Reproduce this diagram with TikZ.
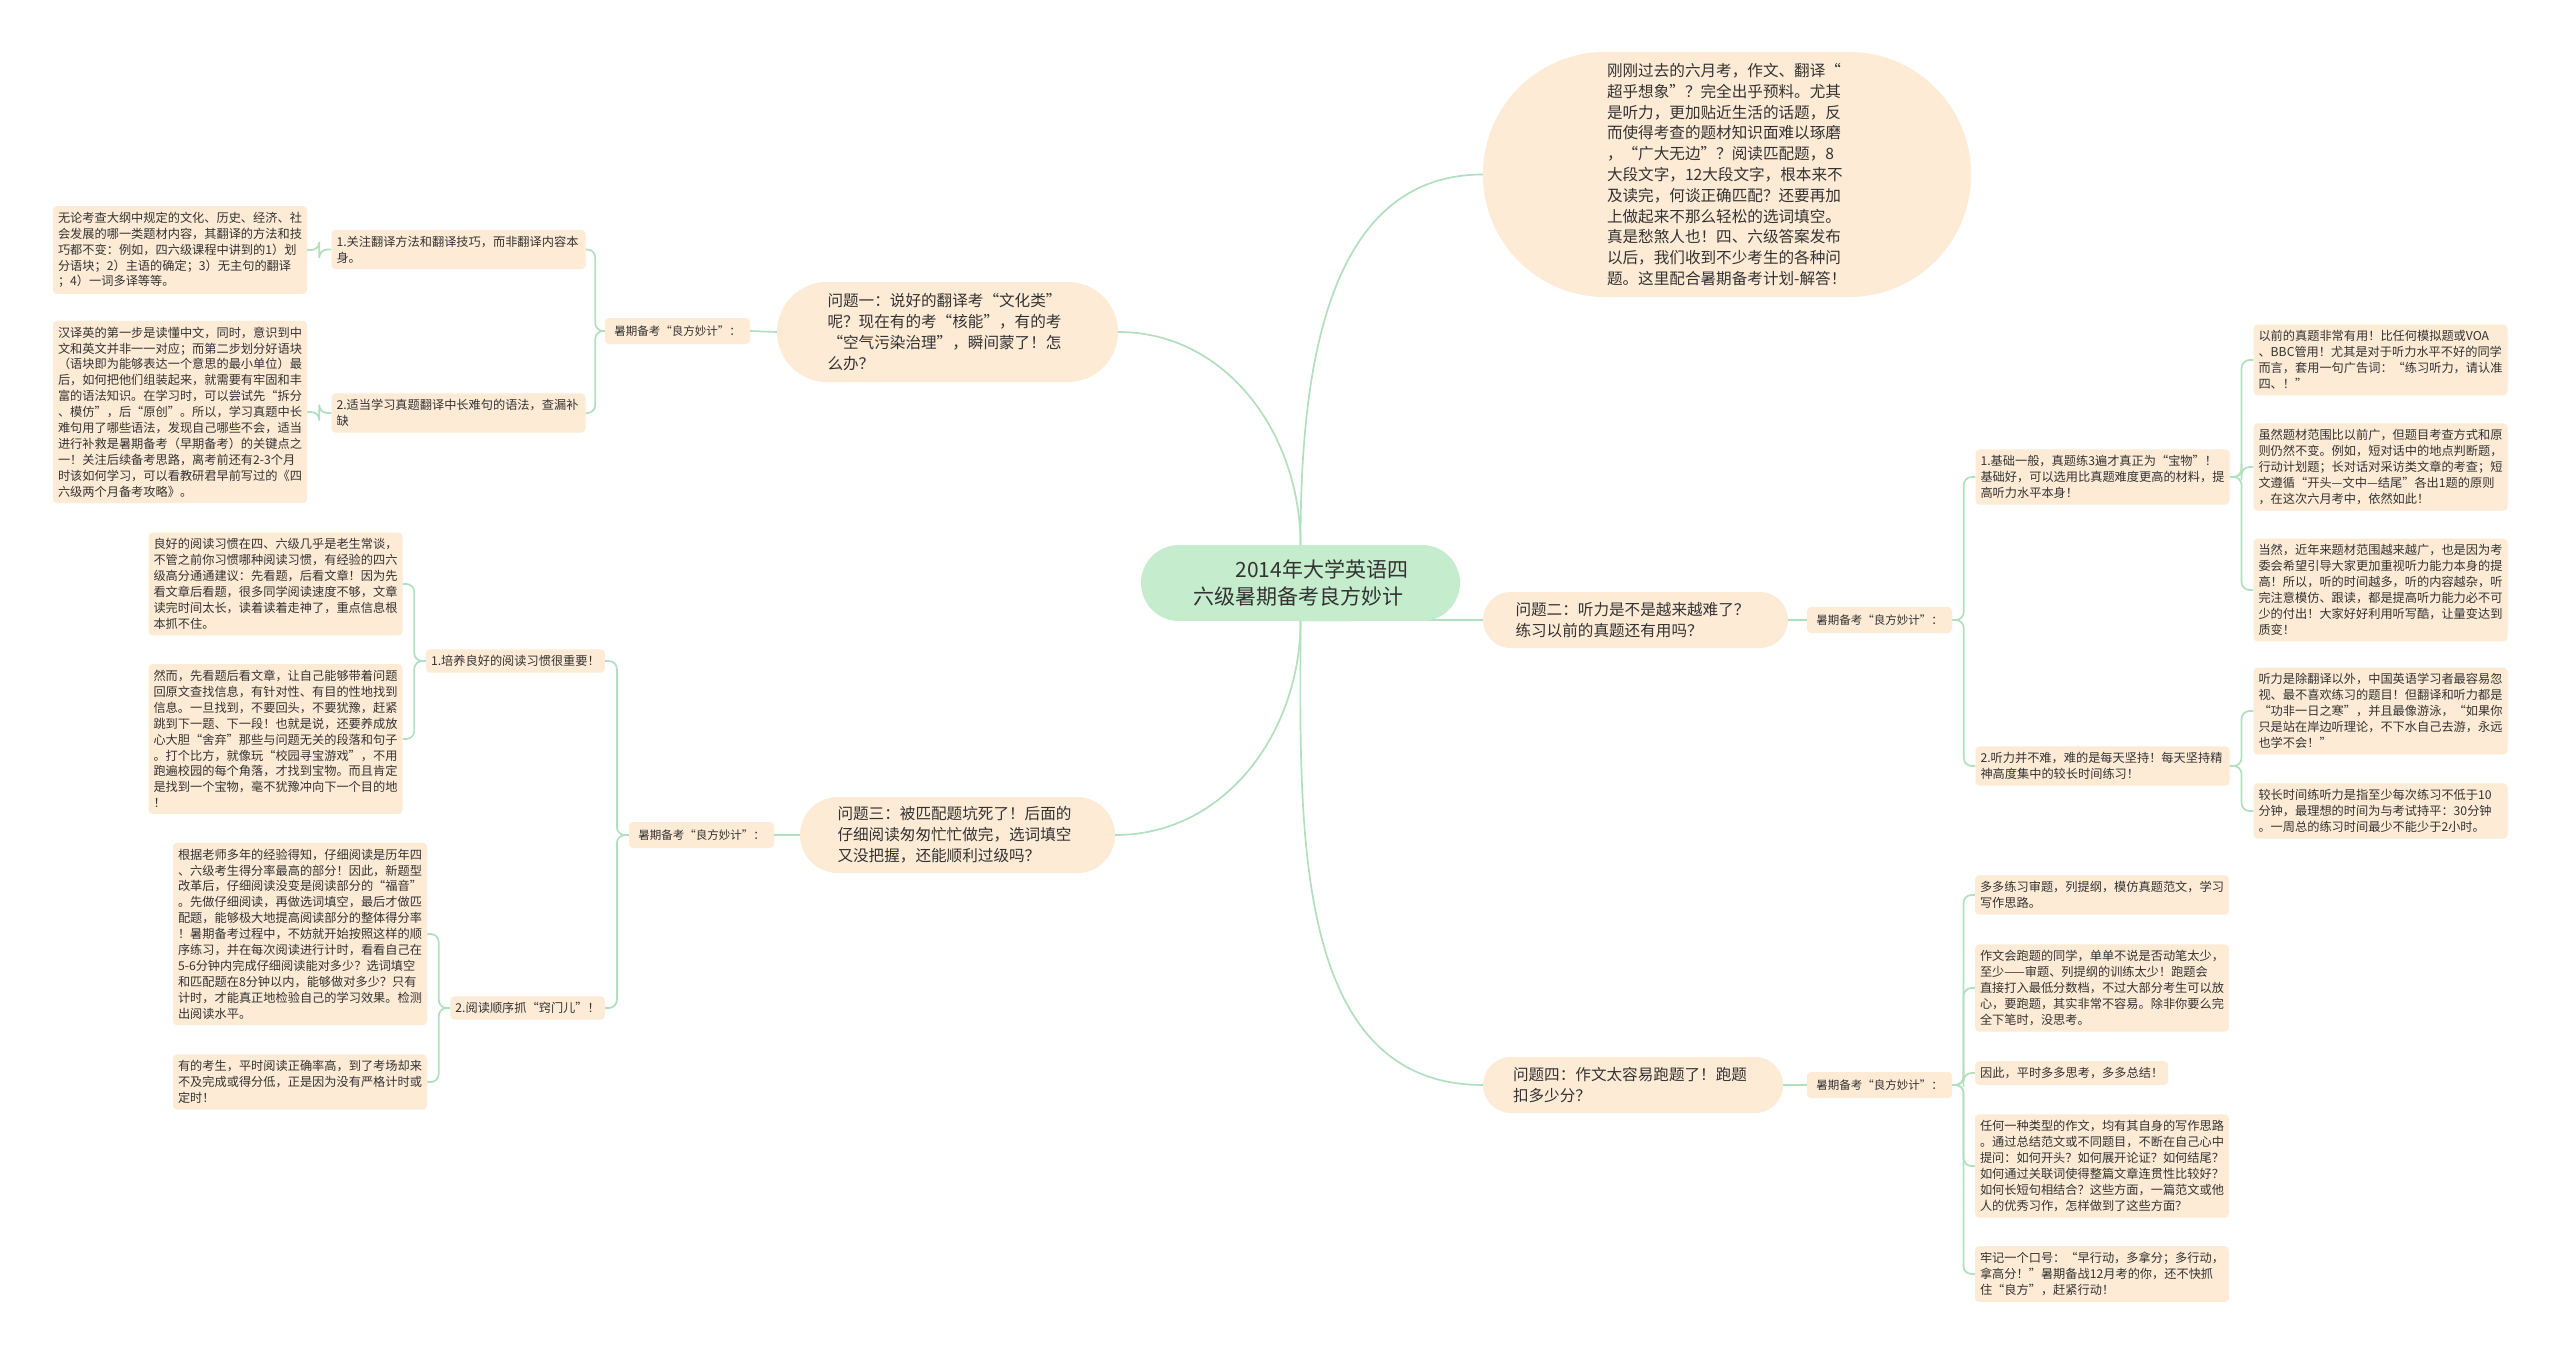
\documentclass[tikz,border=0pt]{standalone}
\usepackage{fontspec}
\setmainfont{Noto Sans CJK SC}
\usetikzlibrary{calc,backgrounds}

\definecolor{LinkGreen}{RGB}{178,224,190}
\definecolor{RootGreen}{RGB}{197,236,205}
\definecolor{Peach}{RGB}{253,235,214}
\definecolor{InkGray}{RGB}{51,51,51}

\newcommand{\LinkLeft}[2]{% parent, child
  \draw[link] (#1.west) -| ($(#1.west)!0.5!(#2.east)$) |- (#2.east);
}
\newcommand{\LinkRight}[2]{% parent, child
  \draw[link] (#1.east) -| ($(#1.east)!0.5!(#2.west)$) |- (#2.west);
}

\tikzset{
  link/.style={draw=LinkGreen, line width=1.7pt, rounded corners=8pt},
  box/.style={fill=Peach, text=InkGray, inner sep=0pt},
  rootbox/.style={fill=RootGreen, text=InkGray, inner sep=0pt, rounded corners=38pt,
    minimum width=319pt, minimum height=76pt, text width=214pt, align=left,
    font=\fontsize{21}{27}\selectfont},
  question/.style={box, align=left, text width=240pt, font=\fontsize{15.6}{20.8}\selectfont},
  tips/.style={box, rounded corners=4pt, minimum width=145pt, minimum height=26pt,
    font=\fontsize{11.5}{14}\selectfont},
  leaf/.style={box, rounded corners=4pt, inner xsep=5pt, inner ysep=6pt, align=left,
    text width=244pt, font=\fontsize{12.2}{15.9}\selectfont},
  note/.style={box, rounded corners=4pt, inner xsep=5pt, inner ysep=6pt,
    font=\fontsize{12.2}{15.9}\selectfont},
}

\begin{document}
\begin{tikzpicture}[x=1pt, y=-1pt]
  \useasboundingbox (0,0) rectangle (2560,1357);
  %
  \node[rootbox] (root) at (1300.5,583) {\hspace*{2em}2014年大学英语四\\六级暑期备考良方妙计};
  \node[question, rounded corners=122pt, minimum width=488pt, minimum height=245pt] (intro) at (1727,174.5)
    {刚刚过去的六月考，作文、翻译“\\超乎想象”？完全出乎预料。尤其\\是听力，更加贴近生活的话题，反\\而使得考查的题材知识面难以琢磨\\，“广大无边”？阅读匹配题，8\\大段文字，12大段文字，根本来不\\及读完，何谈正确匹配？还要再加\\上做起来不那么轻松的选词填空。\\真是愁煞人也！四、六级答案发布\\以后，我们收到不少考生的各种问\\题。这里配合暑期备考计划-解答！};
  %
  \node[question, rounded corners=50pt, minimum width=341pt, minimum height=100pt] (q1) at (947.5,332)
    {问题一：说好的翻译考“文化类”\\呢？现在有的考“核能”，有的考\\“空气污染治理”，瞬间蒙了！怎\\么办？};
  \node[question, rounded corners=28pt, minimum width=305pt, minimum height=56pt] (q2) at (1635.5,620)
    {问题二：听力是不是越来越难了？\\练习以前的真题还有用吗？};
  \node[question, rounded corners=38pt, minimum width=315pt, minimum height=76pt] (q3) at (957.5,835)
    {问题三：被匹配题坑死了！后面的\\仔细阅读匆匆忙忙做完，选词填空\\又没把握，还能顺利过级吗？};
  \node[question, rounded corners=28pt, minimum width=300pt, minimum height=56pt] (q4) at (1633,1085)
    {问题四：作文太容易跑题了！跑题\\扣多少分？};
  %
  \node[tips] (tips1) at (677.5,331) {暑期备考“良方妙计”：};
  \node[tips] (tips2) at (1879.5,620) {暑期备考“良方妙计”：};
  \node[tips] (tips3) at (701.5,835) {暑期备考“良方妙计”：};
  \node[tips] (tips4) at (1879.5,1085) {暑期备考“良方妙计”：};
  %
  % question one
  \node[leaf] (m11) at (458.5,249.5) {1.关注翻译方法和翻译技巧，而非翻译内容本\\身。};
  \node[leaf] (m12) at (458.5,413) {2.适当学习真题翻译中长难句的语法，查漏补\\缺};
  \node[leaf] (l111) at (180,250)
    {无论考查大纲中规定的文化、历史、经济、社\\会发展的哪一类题材内容，其翻译的方法和技\\巧都不变：例如，四六级课程中讲到的1）划\\分语块；2）主语的确定；3）无主句的翻译\\；4）一词多译等等。};
  \node[leaf] (l121) at (180,412)
    {汉译英的第一步是读懂中文，同时，意识到中\\文和英文并非一一对应；而第二步划分好语块\\（语块即为能够表达一个意思的最小单位）最\\后，如何把他们组装起来，就需要有牢固和丰\\富的语法知识。在学习时，可以尝试先“拆分\\、模仿”，后“原创”。所以，学习真题中长\\难句用了哪些语法，发现自己哪些不会，适当\\进行补救是暑期备考（早期备考）的关键点之\\一！关注后续备考思路，离考前还有2-3个月\\时该如何学习，可以看教研君早前写过的《四\\六级两个月备考攻略》。};
  %
  % question three
  \node[note, anchor=east] (m31) at (605,661) {1.培养良好的阅读习惯很重要！};
  \node[note, anchor=east] (m32) at (605,1008) {2.阅读顺序抓“窍门儿”！};
  \node[leaf] (l311) at (275.5,584)
    {良好的阅读习惯在四、六级几乎是老生常谈，\\不管之前你习惯哪种阅读习惯，有经验的四六\\级高分通通建议：先看题，后看文章！因为先\\看文章后看题，很多同学阅读速度不够，文章\\读完时间太长，读着读着走神了，重点信息根\\本抓不住。};
  \node[leaf] (l312) at (275.5,739)
    {然而，先看题后看文章，让自己能够带着问题\\回原文查找信息，有针对性、有目的性地找到\\信息。一旦找到，不要回头，不要犹豫，赶紧\\跳到下一题、下一段！也就是说，还要养成放\\心大胆“舍弃”那些与问题无关的段落和句子\\。打个比方，就像玩“校园寻宝游戏”，不用\\跑遍校园的每个角落，才找到宝物。而且肯定\\是找到一个宝物，毫不犹豫冲向下一个目的地\\！};
  \node[leaf] (l321) at (300,934)
    {根据老师多年的经验得知，仔细阅读是历年四\\、六级考生得分率最高的部分！因此，新题型\\改革后，仔细阅读没变是阅读部分的“福音”\\。先做仔细阅读，再做选词填空，最后才做匹\\配题，能够极大地提高阅读部分的整体得分率\\！暑期备考过程中，不妨就开始按照这样的顺\\序练习，并在每次阅读进行计时，看看自己在\\5-6分钟内完成仔细阅读能对多少？选词填空\\和匹配题在8分钟以内，能够做对多少？只有\\计时，才能真正地检验自己的学习效果。检测\\出阅读水平。};
  \node[leaf] (l322) at (300,1082)
    {有的考生，平时阅读正确率高，到了考场却来\\不及完成或得分低，正是因为没有严格计时或\\定时！};
  %
  % question two
  \node[leaf] (m21) at (2102.5,477) {1.基础一般，真题练3遍才真正为“宝物”！\\基础好，可以选用比真题难度更高的材料，提\\高听力水平本身！};
  \node[leaf] (m22) at (2102.5,766) {2.听力并不难，难的是每天坚持！每天坚持精\\神高度集中的较长时间练习！};
  \node[leaf] (l211) at (2380.5,360)
    {以前的真题非常有用！比任何模拟题或VOA\\、BBC管用！尤其是对于听力水平不好的同学\\而言，套用一句广告词：“练习听力，请认准\\四、！”};
  \node[leaf] (l212) at (2380.5,467)
    {虽然题材范围比以前广，但题目考查方式和原\\则仍然不变。例如，短对话中的地点判断题，\\行动计划题；长对话对采访类文章的考查；短\\文遵循“开头—文中—结尾”各出1题的原则\\，在这次六月考中，依然如此！};
  \node[leaf] (l213) at (2380.5,590)
    {当然，近年来题材范围越来越广，也是因为考\\委会希望引导大家更加重视听力能力本身的提\\高！所以，听的时间越多，听的内容越杂，听\\完注意模仿、跟读，都是提高听力能力必不可\\少的付出！大家好好利用听写酷，让量变达到\\质变！};
  \node[leaf] (l221) at (2380.5,711)
    {听力是除翻译以外，中国英语学习者最容易忽\\视、最不喜欢练习的题目！但翻译和听力都是\\“功非一日之寒”，并且最像游泳，“如果你\\只是站在岸边听理论，不下水自己去游，永远\\也学不会！”};
  \node[leaf] (l222) at (2380.5,811)
    {较长时间练听力是指至少每次练习不低于10\\分钟，最理想的时间为与考试持平：30分钟\\。一周总的练习时间最少不能少于2小时。};
  %
  % question four
  \node[leaf] (l41) at (2102,895) {多多练习审题，列提纲，模仿真题范文，学习\\写作思路。};
  \node[leaf] (l42) at (2102,988)
    {作文会跑题的同学，单单不说是否动笔太少，\\至少——审题、列提纲的训练太少！跑题会\\直接打入最低分数档，不过大部分考生可以放\\心，要跑题，其实非常不容易。除非你要么完\\全下笔时，没思考。};
  \node[note, anchor=west] (l43) at (1975,1073) {因此，平时多多思考，多多总结！};
  \node[leaf] (l44) at (2102,1166)
    {任何一种类型的作文，均有其自身的写作思路\\。通过总结范文或不同题目，不断在自己心中\\提问：如何开头？如何展开论证？如何结尾？\\如何通过关联词使得整篇文章连贯性比较好？\\如何长短句相结合？这些方面，一篇范文或他\\人的优秀习作，怎样做到了这些方面？};
  \node[leaf] (l45) at (2102,1274)
    {牢记一个口号：“早行动，多拿分；多行动，\\拿高分！”暑期备战12月考的你，还不快抓\\住“良方”，赶紧行动！};
  %
  \begin{pgfonlayer}{background}
    \fill[white] (0,0) rectangle (2560,1357);
    \draw[link] (root.north) to[out=90,in=180] (intro.west);
    \draw[link] (root.north) to[out=90,in=0] (q1.east);
    \draw[link] ([yshift=1pt]root.south) -- (q2.west);
    \draw[link] (root.south) to[out=-90,in=0] (q3.east);
    \draw[link] (root.south) to[out=-90,in=180] (q4.west);
    %
    \draw[link] (q1.west) -- (tips1.east);
    \draw[link] (q3.west) -- (tips3.east);
    \draw[link] (q2.east) -- (tips2.west);
    \draw[link] (q4.east) -- (tips4.west);
    %
    \LinkLeft{tips1}{m11}
    \LinkLeft{tips1}{m12}
    \LinkLeft{m11}{l111}
    \LinkLeft{m12}{l121}
    \LinkLeft{tips3}{m31}
    \LinkLeft{tips3}{m32}
    \LinkLeft{m31}{l311}
    \LinkLeft{m31}{l312}
    \LinkLeft{m32}{l321}
    \LinkLeft{m32}{l322}
    %
    \LinkRight{tips2}{m21}
    \LinkRight{tips2}{m22}
    \LinkRight{m21}{l211}
    \LinkRight{m21}{l212}
    \LinkRight{m21}{l213}
    \LinkRight{m22}{l221}
    \LinkRight{m22}{l222}
    \LinkRight{tips4}{l41}
    \LinkRight{tips4}{l42}
    \LinkRight{tips4}{l43}
    \LinkRight{tips4}{l44}
    \LinkRight{tips4}{l45}
  \end{pgfonlayer}
\end{tikzpicture}
\end{document}
